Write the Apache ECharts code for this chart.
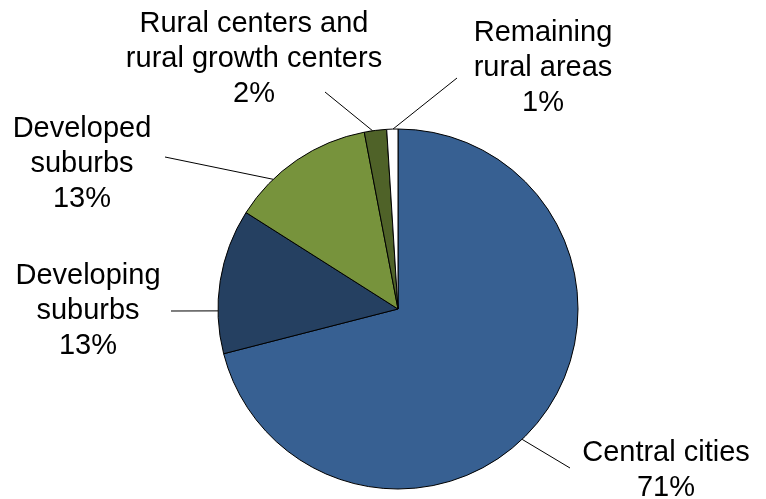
<!DOCTYPE html>
<html>
<head>
<meta charset="utf-8">
<script src="https://cdn.jsdelivr.net/npm/echarts@6/dist/echarts.min.js"></script>
<style>html,body{margin:0;padding:0;background:#fff}#c{width:766px;height:499px}</style>
</head>
<body>
<div id="c"></div>
<script>
const categories = ['Central cities', 'Developing\nsuburbs', 'Developed\nsuburbs', 'Rural centers and\nrural growth centers', 'Remaining\nrural areas'];
const values = [71, 13, 13, 2, 1];
const colors = ['#376092', '#254061', '#77933C', '#4F6228', '#FFFFFF'];

// label anchor positions (px), leader-line start angle on rim (deg clockwise from top), leader-line end points
const labelPos = [[666, 470], [88, 311], [82, 164], [254, 59], [543, 68]];
const lineStartAngle = [136.4, 269.4, 316.1, 351.9, 358.4];
const lineEnd = [[570, 468], [171, 311], [165, 157], [325, 92], [457, 78]];

const CX = 398, CY = 309, R = 180;

const chart = echarts.init(document.getElementById('c'));
chart.setOption({
  animation: false,
  series: [{
    type: 'pie',
    center: [CX, CY],
    radius: R,
    startAngle: 90,
    clockwise: true,
    avoidLabelOverlap: false,
    data: categories.map((n, i) => ({ name: n, value: values[i], itemStyle: { color: colors[i] } })),
    itemStyle: { borderColor: '#000', borderWidth: 1 },
    label: {
      show: true,
      position: 'outside',
      formatter: p => p.name + '\n' + p.value + '%',
      fontFamily: 'Liberation Sans, Arial, sans-serif',
      fontSize: 29,
      lineHeight: 35,
      color: '#000',
      align: 'center'
    },
    labelLine: { show: true, lineStyle: { color: '#000', width: 1 }, length: 10, length2: 10 },
    labelLayout: function (params) {
      const i = params.dataIndex;
      const a = lineStartAngle[i] * Math.PI / 180;
      const s = [CX + R * Math.sin(a), CY - R * Math.cos(a)];
      const e = lineEnd[i];
      return {
        x: labelPos[i][0],
        y: labelPos[i][1],
        align: 'center',
        verticalAlign: 'middle',
        labelLinePoints: [s, e, e]
      };
    }
  }]
});
</script>
</body>
</html>
